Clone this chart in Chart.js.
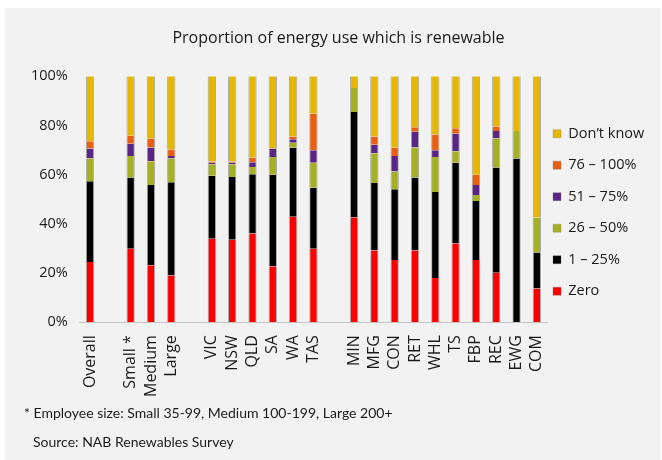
<!DOCTYPE html>
<html>
<head>
<meta charset="utf-8">
<script src="https://cdn.jsdelivr.net/npm/chart.js@4/dist/chart.umd.min.js"></script>
<style>
  html, body { margin: 0; padding: 0; background: #ffffff; }
  #wrap { position: relative; width: 662px; height: 460px; overflow: hidden; }
  #panel { position: absolute; left: 5px; top: 8px; width: 656px; height: 452px; background: #f2f2f2; }
  #cv { position: absolute; left: 0; top: 0; }
  .note { position: absolute; font-family: Lato, sans-serif; font-size: 14px; color: #1a1a1a; white-space: nowrap; }
</style>
</head>
<body>
<div id="wrap">
  <div id="panel"></div>
  <canvas id="cv" width="662" height="460"></canvas>
  <div class="note" style="left:24px; top:404px;">* Employee size: Small 35-99, Medium 100-199, Large 200+</div>
  <div class="note" style="left:33px; top:433px;">Source: NAB Renewables Survey</div>
</div>
<script>
// Categories; empty strings are spacer slots between the groups
const categories = ['Overall', '', 'Small *', 'Medium', 'Large', '',
  'VIC', 'NSW', 'QLD', 'SA', 'WA', 'TAS', '',
  'MIN', 'MFG', 'CON', 'RET', 'WHL', 'TS', 'FBP', 'REC', 'EWG', 'COM'];

// Share of respondents (%) in each band of renewable energy use
const zero       = [24.5, null, 29.8, 23.1, 19.0, null, 33.9, 33.5, 36.1, 22.6, 42.9, 29.8, null, 42.6, 29.1, 25.3, 29.1, 18.0, 32.0, 25.3, 20.1, 0.0, 13.7];
const band1to25  = [32.8, null, 29.0, 32.7, 37.9, null, 25.6, 25.5, 24.0, 37.3, 28.0, 24.9, null, 42.8, 27.5, 28.7, 29.7, 34.9, 32.8, 24.0, 42.8, 66.5, 14.6];
const band26to50 = [9.2, null, 8.8, 9.6, 9.6, null, 4.7, 5.2, 3.0, 7.3, 2.0, 10.1, null, 9.8, 12.1, 7.3, 12.2, 14.3, 4.7, 2.4, 11.9, 11.2, 14.3];
const band51to75 = [4.1, null, 4.9, 5.6, 1.1, null, 0.6, 0.6, 1.9, 3.4, 1.5, 5.1, null, 0.0, 3.4, 6.3, 6.4, 2.7, 7.1, 4.1, 2.9, 0.0, 0.0];
const band76to100 = [3.0, null, 3.3, 3.7, 2.6, null, 0.5, 0.5, 1.9, 0.0, 1.1, 14.9, null, 0.0, 3.4, 3.3, 1.8, 6.4, 2.2, 4.1, 1.9, 0.0, 0.0];
const dontKnow   = [26.4, null, 24.2, 25.3, 29.8, null, 34.7, 34.7, 33.1, 29.4, 24.5, 15.2, null, 4.8, 24.5, 29.1, 20.8, 23.7, 21.2, 40.1, 20.4, 22.3, 57.4];

// Y-axis tick values
const yTicks = [0, 20, 40, 60, 80, 100];

const FONT = '"Open Sans", Lato, sans-serif';

function series(label, data, color) {
  return {
    label: label,
    data: data,
    backgroundColor: color,
    borderColor: 'rgba(110,110,110,0.55)',
    borderWidth: { left: 1, right: 1, top: 0, bottom: 0 },
    borderSkipped: false,
    barPercentage: 0.41,
    categoryPercentage: 1.0
  };
}

// Nudge the legend column closer to the plot area
const legendShift = {
  id: 'legendShift',
  afterLayout(chart) {
    const lg = chart.legend;
    if (lg) { lg.left -= 11; lg.right -= 11; }
  }
};

new Chart(document.getElementById('cv'), {
  type: 'bar',
  data: {
    labels: categories,
    datasets: [
      series('Zero', zero, '#ff0000'),
      series('1 \u2013 25%', band1to25, '#000000'),
      series('26 \u2013 50%', band26to50, '#a6b024'),
      series('51 \u2013 75%', band51to75, '#5a2585'),
      series('76 \u2013 100%', band76to100, '#e8600f'),
      series('Don\u2019t know', dontKnow, '#e6b700')
    ]
  },
  options: {
    responsive: false,
    animation: false,
    layout: { padding: { left: 19, right: 4, top: 0, bottom: 50 } },
    plugins: {
      title: {
        display: true,
        text: 'Proportion of energy use which is renewable',
        color: '#1a1a1a',
        font: { family: FONT, size: 16, weight: 'normal' },
        padding: { top: 29, bottom: 28 }
      },
      legend: {
        position: 'right',
        fullSize: false,
        reverse: true,
        align: 'center',
        maxWidth: 111,
        title: { display: true, text: ' ', font: { size: 12 }, padding: { top: 12, bottom: 0 } },
        labels: {
          boxWidth: 8,
          boxHeight: 8,
          padding: 17,
          color: '#1a1a1a',
          font: { family: FONT, size: 14.5 }
        }
      },
      tooltip: { enabled: false }
    },
    scales: {
      x: {
        stacked: true,
        grid: { display: false, drawTicks: false },
        border: { display: true, color: '#c4c4c4', width: 1 },
        ticks: {
          autoSkip: false,
          maxRotation: 90,
          minRotation: 90,
          padding: 13,
          color: '#1a1a1a',
          font: { family: FONT, size: 16 }
        }
      },
      y: {
        stacked: true,
        min: 0,
        max: 100,
        afterBuildTicks(axis) { axis.ticks = yTicks.map(v => ({ value: v })); },
        grid: { display: false, drawTicks: false },
        border: { display: false },
        ticks: {
          padding: 12,
          color: '#1a1a1a',
          font: { family: FONT, size: 14.5 },
          callback: v => v + '%'
        }
      }
    }
  },
  plugins: [legendShift]
});
</script>
</body>
</html>
